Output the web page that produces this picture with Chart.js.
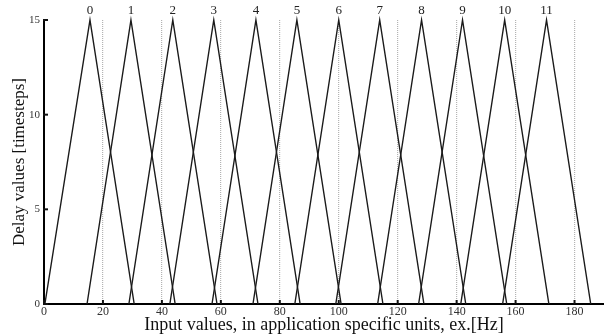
<!DOCTYPE html>
<html>
<head>
<meta charset="utf-8">
<script src="https://cdn.jsdelivr.net/npm/chart.js@4/dist/chart.umd.min.js"></script>
<style>
  body { margin: 0; background: #fff; }
  #wrap { width: 604px; height: 336px; }
</style>
</head>
<body>
<div id="wrap"><canvas id="chart" width="604" height="336"></canvas></div>
<script>
// Receptive fields: one triangle per neuron (input value -> delay)
const neuronIds = ['0', '1', '2', '3', '4', '5', '6', '7', '8', '9', '10', '11'];
const leftEdges = [0.3, 14.6, 28.8, 42.7, 57.0, 70.9, 85.1, 99.0, 113.2, 127.1, 141.4, 155.6];
const peakInputs = [15.6, 29.5, 43.7, 57.6, 71.9, 85.8, 100.0, 113.9, 128.1, 142.0, 156.3, 170.5];
const rightEdges = [30.6, 44.5, 58.7, 72.6, 86.9, 100.8, 115.0, 128.9, 143.1, 157.0, 171.3, 185.5];
const peakDelay = 15;
const baseDelay = 0;

const xTicks = [0, 20, 40, 60, 80, 100, 120, 140, 160, 180];
const yTicks = [0, 5, 10, 15];

const serif = '"Liberation Serif", "DejaVu Serif", serif';

const datasets = neuronIds.map((id, i) => ({
    label: id,
    data: [
        { x: leftEdges[i], y: baseDelay },
        { x: peakInputs[i], y: peakDelay },
        { x: rightEdges[i], y: baseDelay }
    ],
    showLine: true,
    borderColor: '#1a1a1a',
    borderWidth: 1.4,
    pointRadius: 0,
    tension: 0,
    clip: 6
}));

// neuron numbers above each peak, small inward tick marks
const extras = {
    id: 'extras',
    afterDraw(chart) {
        const { ctx, scales: { x, y } } = chart;
        ctx.save();
        ctx.strokeStyle = '#111';
        ctx.lineWidth = 2;
        xTicks.forEach(v => {
            const px = x.getPixelForValue(v);
            ctx.beginPath();
            ctx.moveTo(px, y.bottom);
            ctx.lineTo(px, y.bottom - 4);
            ctx.stroke();
        });
        yTicks.forEach(v => {
            const py = y.getPixelForValue(v);
            ctx.beginPath();
            ctx.moveTo(x.left - 1, py);
            ctx.lineTo(x.left + 4, py);
            ctx.stroke();
        });
        ctx.fillStyle = '#222';
        ctx.font = '13px ' + serif;
        ctx.textAlign = 'center';
        ctx.textBaseline = 'bottom';
        neuronIds.forEach((id, i) => {
            ctx.fillText(id, x.getPixelForValue(peakInputs[i]), y.getPixelForValue(peakDelay) - 3);
        });
        ctx.restore();
    }
};

new Chart(document.getElementById('chart'), {
    type: 'scatter',
    data: { datasets },
    options: {
        responsive: false,
        animation: false,
        layout: { padding: { top: 20, right: 0, left: 0, bottom: 0 } },
        plugins: {
            legend: { display: false },
            tooltip: { enabled: false }
        },
        scales: {
            x: {
                type: 'linear',
                min: 0,
                max: 190,
                afterFit: s => { s.height = 32; },
                afterBuildTicks: s => { s.ticks = xTicks.map(v => ({ value: v })); },
                ticks: {
                    color: '#333',
                    font: { family: serif, size: 12 },
                    padding: 1,
                    maxRotation: 0
                },
                grid: {
                    color: ctx => (ctx.tick && ctx.tick.value === 0 ? 'rgba(0,0,0,0)' : '#b4b4b4'),
                    lineWidth: 1.2,
                    drawTicks: false
                },
                border: { display: true, color: '#000', width: 2, dash: [1, 1] },
                title: {
                    display: true,
                    text: 'Input values, in application specific units, ex.[Hz]',
                    color: '#111',
                    font: { family: serif, size: 18 },
                    padding: { top: 0, bottom: 0 }
                }
            },
            y: {
                min: 0,
                max: 15,
                afterFit: s => { s.width = 44; },
                afterBuildTicks: s => { s.ticks = yTicks.map(v => ({ value: v })); },
                ticks: {
                    color: '#333',
                    font: { family: serif, size: 11 },
                    padding: 4
                },
                grid: { display: false, drawTicks: false },
                border: { display: true, color: '#000', width: 2 },
                title: {
                    display: true,
                    text: 'Delay values [timesteps]',
                    color: '#111',
                    font: { family: serif, size: 17 },
                    padding: { top: 9, bottom: 0 }
                }
            }
        }
    },
    plugins: [extras]
});
</script>
</body>
</html>
